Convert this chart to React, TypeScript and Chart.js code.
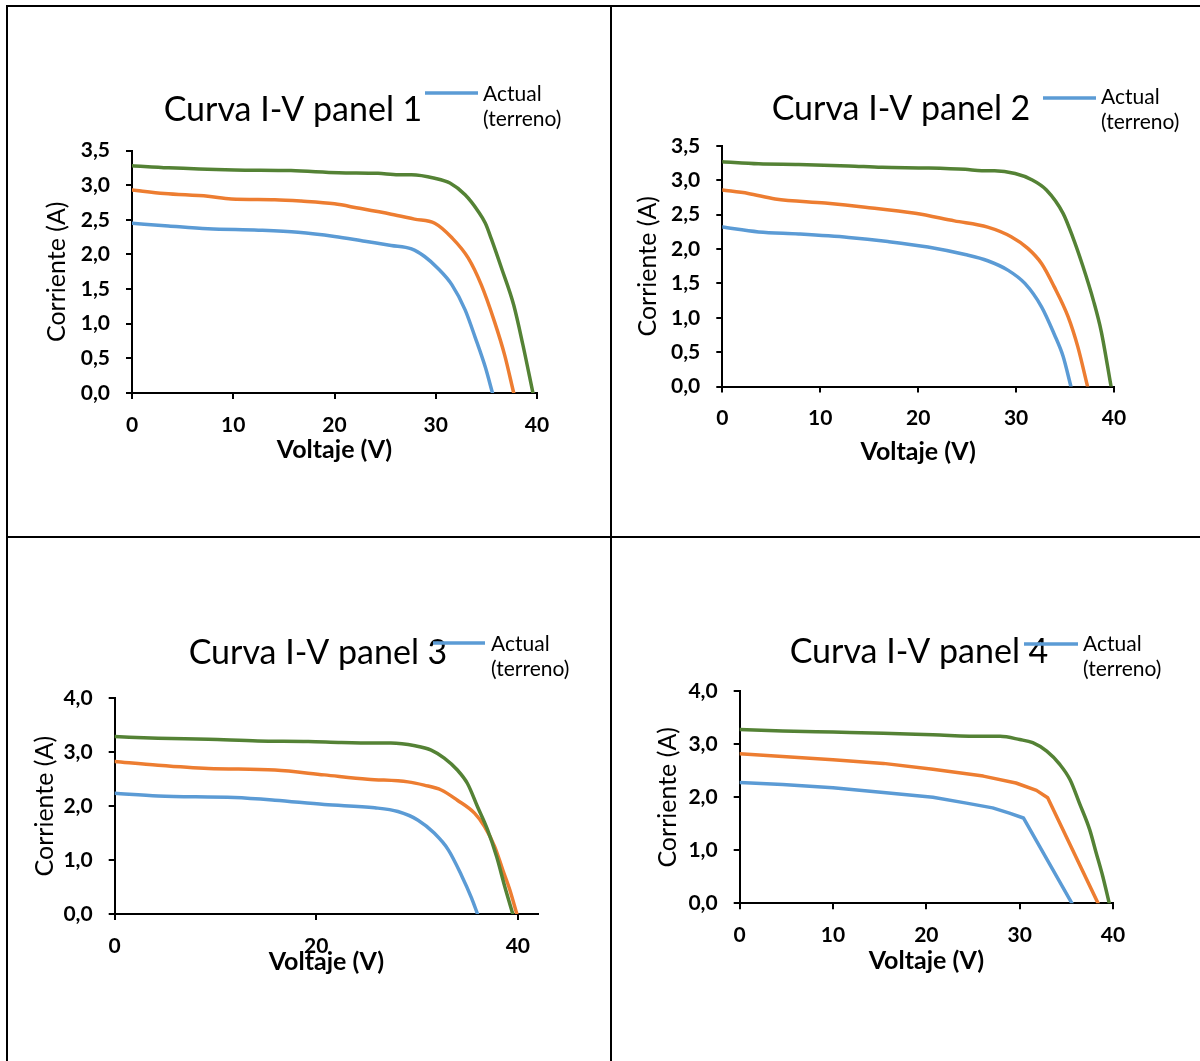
import React, { useEffect, useRef } from 'react';
import { Chart, registerables } from 'chart.js';

Chart.register(...registerables);

// ---------- colours & labels ----------
const BLUE = '#5B9BD5';
const ORANGE = '#ED7D31';
const GREEN = '#548235';

const seriesLabels = ['Actual (terreno)', 'Serie 2', 'Serie 3'];
const legendLines = ['Actual', '(terreno)'];
const xAxisTitle = 'Voltaje (V)';
const yAxisTitle = 'Corriente (A)';
const panelTitles = ['Curva I-V panel 1', 'Curva I-V panel 2', 'Curva I-V panel 3', 'Curva I-V panel 4'];

// ---------- Panel 1 data ----------
const p1BlueV = [0, 3.6, 7.5, 12.5, 16.4, 20.0, 23.0, 25.6, 27.6, 28.9, 30.2, 31.6, 32.9, 33.9, 34.9, 35.6];
const p1BlueI = [2.45, 2.41, 2.37, 2.35, 2.32, 2.26, 2.19, 2.13, 2.08, 1.97, 1.8, 1.56, 1.2, 0.8, 0.37, 0];
const p1OrangeV = [0, 3.2, 7.5, 9.8, 14.1, 16.7, 20.0, 22.3, 25.6, 27.9, 29.9, 31.6, 33.2, 34.5, 35.8, 36.8, 37.7];
const p1OrangeI = [2.93, 2.88, 2.84, 2.8, 2.79, 2.77, 2.73, 2.67, 2.58, 2.51, 2.45, 2.24, 1.95, 1.56, 1.03, 0.55, 0];
const p1GreenV = [0, 3.6, 10.1, 15.7, 20.4, 24.3, 26.3, 27.6, 29.9, 31.4, 32.9, 34.2, 34.9, 35.5, 36.5, 37.7, 38.6, 39.6];
const p1GreenI = [3.28, 3.25, 3.22, 3.21, 3.18, 3.17, 3.15, 3.15, 3.1, 3.03, 2.86, 2.62, 2.45, 2.22, 1.8, 1.27, 0.7, 0];

// ---------- Panel 2 data ----------
const p2BlueV = [0, 3.7, 7.8, 12.9, 16.9, 21.0, 24.8, 27.1, 29.2, 30.9, 32.6, 33.9, 34.8, 35.6];
const p2BlueI = [2.32, 2.25, 2.22, 2.17, 2.11, 2.03, 1.92, 1.83, 1.69, 1.5, 1.16, 0.76, 0.44, 0];
const p2OrangeV = [0, 2.65, 5.4, 10.5, 14.6, 19.7, 23.7, 27.1, 29.5, 31.2, 32.6, 33.9, 35.3, 36.3, 37.3];
const p2OrangeI = [2.86, 2.81, 2.73, 2.67, 2.61, 2.52, 2.41, 2.32, 2.18, 2.01, 1.79, 1.45, 1.02, 0.58, 0];
const p2GreenV = [0, 3.7, 7.8, 12.9, 16.3, 21.0, 24.8, 26.5, 27.8, 29.9, 31.6, 33.1, 34.8, 35.8, 36.8, 37.9, 38.7, 39.7];
const p2GreenI = [3.27, 3.24, 3.23, 3.21, 3.19, 3.18, 3.16, 3.14, 3.14, 3.1, 3.01, 2.86, 2.52, 2.17, 1.76, 1.25, 0.8, 0];

// ---------- Panel 3 data ----------
const p3BlueV = [0, 4.3, 11.9, 15.9, 20.8, 25.8, 28.1, 30.1, 31.7, 33.1, 34.4, 35.4, 36.0];
const p3BlueI = [2.24, 2.19, 2.16, 2.11, 2.03, 1.97, 1.9, 1.74, 1.5, 1.19, 0.72, 0.3, 0];
const p3OrangeV = [0, 4.3, 9.3, 15.9, 20.8, 25.1, 29.1, 30.7, 32.4, 34.0, 35.7, 36.7, 37.7, 38.5, 39.2, 39.9];
const p3OrangeI = [2.83, 2.76, 2.7, 2.67, 2.58, 2.5, 2.45, 2.39, 2.3, 2.11, 1.87, 1.62, 1.25, 0.82, 0.45, 0];
const p3GreenV = [0, 4.3, 9.3, 14.2, 19.2, 22.5, 25.8, 27.4, 29.8, 31.4, 32.7, 34.0, 35.0, 36.0, 37.0, 37.9, 38.7, 39.5];
const p3GreenI = [3.29, 3.26, 3.24, 3.21, 3.2, 3.18, 3.17, 3.17, 3.12, 3.04, 2.89, 2.67, 2.42, 1.99, 1.56, 1.06, 0.51, 0];

// ---------- Panel 4 data ----------
const p4BlueV = [0, 4.6, 10, 15.4, 20.7, 24.3, 27.1, 28.9, 30.4, 35.6];
const p4BlueI = [2.28, 2.24, 2.18, 2.09, 2.0, 1.89, 1.8, 1.7, 1.61, 0];
const p4OrangeV = [0, 4.6, 10, 15.4, 20.7, 26.1, 29.6, 31.8, 33.0, 38.4];
const p4OrangeI = [2.82, 2.77, 2.71, 2.64, 2.53, 2.4, 2.27, 2.13, 1.99, 0];
const p4GreenV = [0, 4.6, 10, 15.4, 20.7, 26.1, 27.9, 30, 31.4, 32.9, 34.3, 35.4, 36.4, 37.5, 38.2, 38.9, 39.6];
const p4GreenI = [3.28, 3.25, 3.23, 3.21, 3.18, 3.15, 3.15, 3.09, 3.03, 2.87, 2.62, 2.33, 1.89, 1.39, 0.95, 0.51, 0];

// ---------- axis ranges ----------
const xMaxes = [40, 40, 42, 40];
const xSteps = [10, 10, 20, 10];
const yMaxes = [3.5, 3.5, 4, 4];
const ySteps = [0.5, 0.5, 1, 1];

// ---------- styling / layout ----------
const FONT = 'Lato';
const TICK_SIZE = 21;
const AXIS_TITLE_SIZE = 25;
const TITLE_SIZE = 34;
const LEGEND_SIZE = 21;
const TICK_LEN = 6;
const LINE_W = 3.5;

type Layout = {
  cell: { x: number; y: number; w: number; h: number };
  area: { l: number; t: number; r: number; b: number };
  yTitleX: number;
  xTitleY: number;
  title: { x: number; y: number };
  legend: { x1: number; x2: number; y: number; tx: number; b1: number; lh: number };
};

const layouts: Layout[] = [
  {
    cell: { x: 8, y: 7, w: 602, h: 529 },
    area: { l: 132, t: 150.5, r: 537, b: 393 },
    yTitleX: 57,
    xTitleY: 450,
    title: { x: 293, y: 121 },
    legend: { x1: 425, x2: 478, y: 93, tx: 483, b1: 100.5, lh: 25 },
  },
  {
    cell: { x: 612, y: 7, w: 588, h: 529 },
    area: { l: 722.3, t: 146, r: 1114, b: 386.5 },
    yTitleX: 648,
    xTitleY: 452,
    title: { x: 901, y: 120 },
    legend: { x1: 1043, x2: 1096, y: 98, tx: 1101, b1: 104, lh: 25 },
  },
  {
    cell: { x: 8, y: 538, w: 602, h: 523 },
    area: { l: 114.7, t: 698.3, r: 538, b: 914 },
    yTitleX: 45,
    xTitleY: 962,
    title: { x: 318, y: 664 },
    legend: { x1: 433, x2: 485, y: 643, tx: 491, b1: 651, lh: 25 },
  },
  {
    cell: { x: 612, y: 538, w: 588, h: 523 },
    area: { l: 739.7, t: 691.3, r: 1113, b: 903.3 },
    yTitleX: 668,
    xTitleY: 960.5,
    title: { x: 919, y: 663 },
    legend: { x1: 1024, x2: 1078, y: 644, tx: 1083, b1: 651, lh: 25 },
  },
];

const panelData = [
  [[p1BlueV, p1BlueI], [p1OrangeV, p1OrangeI], [p1GreenV, p1GreenI]],
  [[p2BlueV, p2BlueI], [p2OrangeV, p2OrangeI], [p2GreenV, p2GreenI]],
  [[p3BlueV, p3BlueI], [p3OrangeV, p3OrangeI], [p3GreenV, p3GreenI]],
  [[p4BlueV, p4BlueI], [p4OrangeV, p4OrangeI], [p4GreenV, p4GreenI]],
];
const seriesColors = [BLUE, ORANGE, GREEN];
// panel 4 blue/orange have straight segments after the knee
const smoothFlags = [
  [true, true, true],
  [true, true, true],
  [true, true, true],
  [false, false, true],
];

const overlayPlugin = {
  id: 'overlay',
  afterDraw(chart: any, _args: any, opts: any) {
    const ctx = chart.ctx as CanvasRenderingContext2D;
    ctx.save();
    ctx.fillStyle = '#000';
    ctx.font = `${TITLE_SIZE}px ${FONT}`;
    ctx.textAlign = 'center';
    ctx.textBaseline = 'alphabetic';
    ctx.fillText(opts.title, opts.titleX, opts.titleY);

    const ds = chart.data.datasets[0];
    ctx.strokeStyle = ds.borderColor;
    ctx.lineWidth = LINE_W;
    ctx.lineCap = 'butt';
    ctx.beginPath();
    ctx.moveTo(opts.lx1, opts.ly);
    ctx.lineTo(opts.lx2, opts.ly);
    ctx.stroke();

    ctx.font = `${LEGEND_SIZE}px ${FONT}`;
    ctx.textAlign = 'left';
    ctx.fillStyle = '#000';
    (opts.lines as string[]).forEach((t, i) => ctx.fillText(t, opts.tx, opts.b1 + i * opts.lh));
    ctx.restore();
  },
};

function fmtComma(v: number) {
  return v.toFixed(1).replace('.', ',');
}

function buildConfig(idx: number): any {
  const L = layouts[idx];
  const cx = L.cell.x;
  const cy = L.cell.y;
  const half = (AXIS_TITLE_SIZE * 1.2) / 2;
  const padLeft = L.yTitleX - cx - half;
  const yW = L.area.l - cx - padLeft;
  const xH = L.xTitleY - L.area.b + half;
  const padBottom = cy + L.cell.h - L.area.b - xH;
  const padTop = L.area.t - cy;
  const padRight = cx + L.cell.w - L.area.r;
  const xTickPad = 32 - TICK_LEN - (TICK_SIZE * 1.2) / 2;

  const datasets = panelData[idx].map((pair, s) => {
    const [V, I] = pair;
    return {
      label: seriesLabels[s],
      data: V.map((v, k) => ({ x: v, y: I[k] })),
      borderColor: seriesColors[s],
      backgroundColor: seriesColors[s],
      borderWidth: LINE_W,
      pointRadius: 0,
      pointHoverRadius: 0,
      showLine: true,
      fill: false,
      tension: 0,
      cubicInterpolationMode: smoothFlags[idx][s] ? 'monotone' : 'default',
      order: 2 - s,
      borderCapStyle: 'round',
      borderJoinStyle: 'round',
    };
  });

  const gridOpts = {
    drawOnChartArea: false,
    drawTicks: true,
    tickLength: TICK_LEN,
    color: '#000',
    lineWidth: 2,
  };
  const borderOpts = { display: true, color: '#000', width: 2 };

  return {
    type: 'scatter',
    data: { datasets },
    plugins: [overlayPlugin],
    options: {
      animation: false,
      responsive: false,
      maintainAspectRatio: false,
      events: [],
      layout: { padding: { left: padLeft, top: padTop, right: padRight, bottom: padBottom } },
      plugins: {
        legend: { display: false },
        title: { display: false },
        tooltip: { enabled: false },
        overlay: {
          title: panelTitles[idx],
          titleX: L.title.x - cx,
          titleY: L.title.y - cy,
          lx1: L.legend.x1 - cx,
          lx2: L.legend.x2 - cx,
          ly: L.legend.y - cy,
          tx: L.legend.tx - cx,
          b1: L.legend.b1 - cy,
          lh: L.legend.lh,
          lines: legendLines,
        },
      },
      scales: {
        x: {
          type: 'linear',
          position: 'bottom',
          min: 0,
          max: xMaxes[idx],
          afterFit: (s: any) => {
            s.height = xH;
          },
          ticks: {
            stepSize: xSteps[idx],
            includeBounds: false,
            color: '#000',
            padding: xTickPad,
            maxRotation: 0,
            font: { family: FONT, size: TICK_SIZE, weight: 'bold' },
            callback: (v: number) => String(v),
          },
          grid: gridOpts,
          border: borderOpts,
          title: {
            display: true,
            text: xAxisTitle,
            color: '#000',
            padding: 0,
            font: { family: FONT, size: AXIS_TITLE_SIZE, weight: 'bold' },
          },
        },
        y: {
          type: 'linear',
          position: 'left',
          min: 0,
          max: yMaxes[idx],
          afterFit: (s: any) => {
            s.width = yW;
          },
          ticks: {
            stepSize: ySteps[idx],
            color: '#000',
            padding: 16,
            font: { family: FONT, size: TICK_SIZE, weight: 'bold' },
            callback: (v: number) => fmtComma(v),
          },
          grid: gridOpts,
          border: borderOpts,
          title: {
            display: true,
            text: yAxisTitle,
            color: '#000',
            padding: 0,
            font: { family: FONT, size: AXIS_TITLE_SIZE, weight: 'normal' },
          },
        },
      },
    },
  };
}

function Panel({ idx }: { idx: number }) {
  const ref = useRef<HTMLCanvasElement | null>(null);
  useEffect(() => {
    if (!ref.current) return;
    const chart = new Chart(ref.current, buildConfig(idx));
    return () => chart.destroy();
  }, [idx]);
  const c = layouts[idx].cell;
  return (
    <canvas
      ref={ref}
      width={c.w}
      height={c.h}
      style={{ position: 'absolute', left: c.x, top: c.y, width: c.w, height: c.h }}
    />
  );
}

const lineStyle = (left: number, top: number, width: number, height: number): React.CSSProperties => ({
  position: 'absolute',
  left,
  top,
  width,
  height,
  background: '#000',
});

export default function App() {
  return (
    <div
      style={{
        position: 'absolute',
        left: 0,
        top: 0,
        width: 1200,
        height: 1061,
        background: '#fff',
        overflow: 'hidden',
      }}
    >
      {[0, 1, 2, 3].map((i) => (
        <Panel key={i} idx={i} />
      ))}
      <div style={lineStyle(6, 5, 1194, 2)} />
      <div style={lineStyle(6, 5, 2, 1056)} />
      <div style={lineStyle(610, 5, 2, 1056)} />
      <div style={lineStyle(6, 536, 1194, 2)} />
    </div>
  );
}
